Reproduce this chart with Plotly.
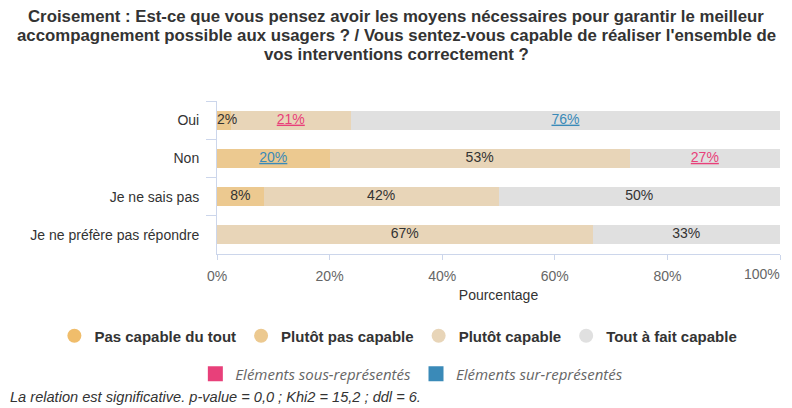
import plotly.graph_objects as go

categories = ["Oui", "Non", "Je ne sais pas", "Je ne préfère pas répondre"]
series_names = ["Pas capable du tout", "Plutôt pas capable", "Plutôt capable", "Tout à fait capable"]
pas_capable = [0, 0, 0, 0]
plutot_pas = [2.4, 20.0, 8.3, 0]
plutot_capable = [21.4, 53.3, 41.7, 66.7]
tout_a_fait = [76.2, 26.7, 50.0, 33.3]
# significance: "sous" = under-represented, "sur" = over-represented
sig_pas_capable = ["", "", "", ""]
sig_plutot_pas = ["", "sur", "", ""]
sig_plutot_capable = ["sous", "", "", ""]
sig_tout_a_fait = ["sur", "sous", "", ""]
x_ticks = [0, 20, 40, 60, 80, 100]
x_tick_labels = ["0%", "20%", "40%", "60%", "80%", "100%"]
legend2_names = ["Eléments sous-représentés", "Eléments sur-représentés"]
title_lines = [
    "Croisement : Est-ce que vous pensez avoir les moyens nécessaires pour garantir le meilleur",
    "accompagnement possible aux usagers ? / Vous sentez-vous capable de réaliser l'ensemble de",
    "vos interventions correctement ?",
]
footer = "La relation est significative. p-value = 0,0 ; Khi2 = 15,2 ; ddl = 6."

colors = ["#f0bd6b", "#ecc990", "#e8d5b8", "#e0e0e0"]
sig_colors = {"sous": "#e8407a", "sur": "#3a8ab8"}

FONT = "Liberation Sans, Arial, sans-serif"

W, H = 792, 408
L, R, T, B = 217, 12, 101, 154
PH = H - T - B

def px_x(x):
    return x / W

def px_y(y):
    return (H - B - y) / PH

def label(v, s):
    t = f"{round(v)}%"
    if s:
        t = f'<span style="text-decoration:underline;fill:{sig_colors[s]}">{t}</span>'
    return t

fig = go.Figure()
all_vals = [pas_capable, plutot_pas, plutot_capable, tout_a_fait]
all_sigs = [sig_pas_capable, sig_plutot_pas, sig_plutot_capable, sig_tout_a_fait]
for name, vals, c in zip(series_names, all_vals, colors):
    fig.add_trace(go.Bar(
        y=categories, x=vals, orientation="h", name=name,
        marker=dict(color=c, line=dict(width=0)),
        textposition="none",
        showlegend=False, hoverinfo="skip", width=0.5,
    ))

# data labels drawn on top of all bars (positions from the stacked values)
lx, ly, lt, lp = [], [], [], []
for i, cat in enumerate(categories):
    start = 0.0
    for vals, sigs in zip(all_vals, all_sigs):
        v = vals[i]
        if v > 0:
            if v < 4:
                lx.append(start)
                lp.append("middle right")
            else:
                lx.append(start + v / 2)
                lp.append("middle center")
            ly.append(cat)
            lt.append(label(v, sigs[i]))
        start += v
fig.add_trace(go.Scatter(
    x=lx, y=ly, text=lt, mode="text", textposition=lp,
    textfont=dict(family=FONT, size=14, color="#333333"),
    showlegend=False, hoverinfo="skip", cliponaxis=False,
))

for name, c in zip(series_names, colors):
    fig.add_trace(go.Scatter(
        x=[None], y=[None], mode="markers", name=name,
        marker=dict(symbol="circle", size=14, color=c),
        legend="legend", hoverinfo="skip",
    ))
for name, c in zip(legend2_names, [sig_colors["sous"], sig_colors["sur"]]):
    fig.add_trace(go.Scatter(
        x=[None], y=[None], mode="markers", name=name,
        marker=dict(symbol="square", size=15, color=c),
        legend="legend2", hoverinfo="skip",
    ))

annotations = []
for line, yc in zip(title_lines, [17, 35.5, 54]):
    annotations.append(dict(
        text=line, xref="paper", yref="paper", x=0.5, xanchor="center",
        y=px_y(yc), yanchor="middle", showarrow=False,
        font=dict(family=FONT, size=16.8, color="#333333", weight="bold"),
    ))
annotations.append(dict(
    text=footer, xref="paper", yref="paper", x=px_x(8), xanchor="left",
    y=px_y(397), yanchor="middle", showarrow=False,
    font=dict(family=FONT, size=14.6, color="#333333", style="italic"),
))
# last tick label kept inside the chart (right-aligned on its tick)
annotations.append(dict(
    text=x_tick_labels[-1], xref="x", yref="paper", x=x_ticks[-1], xanchor="right",
    y=px_y(274), yanchor="middle", showarrow=False, xshift=2,
    font=dict(family=FONT, size=14, color="#666666"),
))

fig.update_layout(
    width=W, height=H,
    barmode="stack",
    plot_bgcolor="white", paper_bgcolor="white",
    margin=dict(l=0, r=0, t=T, b=B, autoexpand=False),
    xaxis=dict(
        domain=[L / W, (W - R) / W],
        range=[0, 100], tickvals=x_ticks,
        ticktext=x_tick_labels[:-1] + [""],
        showgrid=False, zeroline=False,
        showline=True, linecolor="#ccd6eb", linewidth=1,
        ticks="outside", ticklen=5, tickcolor="#ccd6eb",
        ticklabelstandoff=4,
        tickfont=dict(family=FONT, size=14, color="#666666"),
        title=dict(text="Pourcentage", font=dict(family=FONT, size=14, color="#333333"), standoff=7),
        automargin=False, fixedrange=True,
    ),
    yaxis=dict(
        autorange="reversed", categoryorder="array", categoryarray=categories,
        showgrid=False, zeroline=False,
        showline=True, linecolor="#ccd6eb", linewidth=1,
        ticks="outside", tickson="boundaries", ticklen=10, tickcolor="#ccd6eb",
        ticklabelstandoff=14,
        tickfont=dict(family=FONT, size=14, color="#333333"),
        automargin=False, fixedrange=True,
    ),
    legend=dict(
        orientation="h", x=0.503, xanchor="center",
        y=px_y(336), yanchor="middle", traceorder="normal",
        font=dict(family=FONT, size=15, color="#333333", weight="bold"),
        itemclick=False, itemdoubleclick=False,
    ),
    legend2=dict(
        orientation="h", x=0.52, xanchor="center",
        y=px_y(374), yanchor="middle", traceorder="normal",
        font=dict(family="Open Sans, sans-serif", size=15, color="#666666", style="italic"),
        itemclick=False, itemdoubleclick=False,
    ),
    annotations=annotations,
)

fig.write_html("out.html", config={"displayModeBar": False},
               post_script="document.body.style.margin='0';document.body.style.padding='0';")
